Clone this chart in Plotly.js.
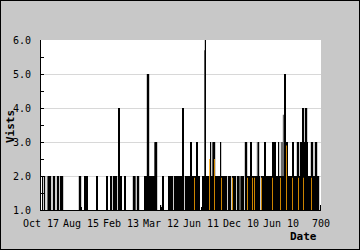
<!DOCTYPE html>
<html>
<head>
<meta charset="utf-8">
<script src="https://cdn.plot.ly/plotly-3.0.1.min.js"></script>
<style>
  html, body { margin: 0; padding: 0; background: #c8c8c8; }
  #chart { width: 358px; height: 248px; border: 1px solid #000; }
</style>
</head>
<body>
<div id="chart"></div>
<script>
// Day index (0..700) and visits per day
const days = [4,9,19,21,24,31,34,41,44,49,51,54,96,99,109,111,114,116,139,141,
  164,166,174,176,181,184,186,189,194,196,199,201,209,211,231,234,241,244,259,261,
  264,266,269,271,274,276,279,281,284,286,289,299,304,306,319,321,324,326,329,334,
  336,339,341,344,346,349,351,354,356,361,364,366,369,371,374,376,379,381,384,386,
  389,391,394,396,404,406,409,411,414,416,419,421,424,426,429,431,434,436,439,441,
  444,446,449,451,454,456,459,461,464,469,471,474,479,481,484,486,491,494,501,504,
  506,511,514,516,519,521,524,526,529,531,534,536,539,541,544,546,551,554,556,559,
  561,564,566,569,571,574,576,579,581,584,586,589,591,594,596,599,601,604,606,609,
  611,614,616,619,621,624,626,629,631,634,636,639,641,644,646,649,651,654,656,659,
  661,664,666,669,671,674,676,679,681,684,686,689,691,694,699];
const visits = [2,2,2,2,2,2,2,2,2,2,2,2,2,2,2,2,2,2,2,2,
  2,2,2,2,2,2,2,2,4,4,2,2,2,2,2,2,2,2,2,2,
  2,5,5,2,2,2,2,2,2,3,3,1.15,2,2,2,2,2,2,2,2,
  2,2,2,2,2,2,2,4,4,2,2,2,2,2,3,3,2,2,2,2,
  3,3,2,2,2,2,2,6,2,2,2,2,3,2,2,3,3,2,2,2,
  2,2,3,2,2,2,2,2,2,2,2,2,2,2,2,2,2,2,2,2,
  2,3,3,2,2,2,3,3,2,2,2,2,2,2,3,2,2,2,2,3,
  3,2,2,2,2,2,2,3,3,3,3,2,2,3,2,2,2,2,2,5,
  5,3,3,2,2,2,2,3,3,2,2,2,3,3,2,3,3,4,4,3,
  4,4,3,2,2,2,3,3,2,2,3,3,2,2,1.15];

// Days drawn as faint (partially covered) bars
const faintDays = [16,236,284,409,429,496,499,541,601,604,606];
const faintVisits = [2,2,3,5.7,3,2,2,3,3,3,3.8];

// Days whose bar shows the orange fill
const orangeDays = [384,421,434,451,479,516,529,534,551,579,599,614,629,644,656,676];
const orangeVisits = [1.95,2.5,2.5,1.95,1.95,1.95,1.95,1.95,1.95,1.95,1.95,2.9,1.95,1.95,1.95,1.95];

// Tick labels
const tickDays = [0,100,200,300,400,500,600,700];
const tickLabels = ["Oct 17","Aug 15","Feb 13","Mar 12","Jun 11","Dec 10","Jun 10","700"];

const font = "DejaVu Sans Mono, Liberation Mono, monospace";

const traces = [
  { type: "bar", x: faintDays, y: faintVisits, width: 3,
    marker: { color: "#6a6a6a", line: { width: 0 } } },
  { type: "bar", x: days, y: visits, width: 3,
    marker: { color: "#000000", line: { width: 0 } } },
  { type: "bar", x: orangeDays, y: orangeVisits, width: 2,
    marker: { color: "#ffa500", line: { width: 0 } } }
];

const layout = {
  width: 358, height: 248,
  margin: { l: 40, r: 38, t: 39, b: 39, pad: 0 },
  paper_bgcolor: "#c8c8c8",
  plot_bgcolor: "#ffffff",
  showlegend: false,
  barmode: "overlay",
  font: { family: font, size: 10, color: "#000" },
  xaxis: {
    range: [0, 700], tickmode: "array", tickvals: tickDays, ticktext: tickLabels,
    ticks: "inside", ticklen: 3, tickcolor: "#000", ticklabelstandoff: 4,
    showline: true, linecolor: "#000", linewidth: 1,
    showgrid: false, zeroline: false, fixedrange: true,
    tickfont: { family: font, size: 10, color: "#000" }
  },
  yaxis: {
    range: [1, 6], dtick: 1, tick0: 1, tickformat: ".1f",
    ticks: "inside", ticklen: 3, tickcolor: "#000", ticklabelstandoff: 7,
    minor: { dtick: 0.5, ticks: "inside", ticklen: 3, tickcolor: "#000", showgrid: false },
    showline: true, linecolor: "#000", linewidth: 1,
    showgrid: true, gridcolor: "#d8d8d8", zeroline: false, fixedrange: true,
    tickfont: { family: font, size: 10, color: "#000" }
  },
  annotations: [
    { text: "<b>Vists</b>", xref: "paper", yref: "paper", x: 0, y: 0.5,
      xanchor: "center", yanchor: "middle", xshift: -31, yshift: -2,
      textangle: -90, showarrow: false, font: { family: font, size: 11, color: "#000" } },
    { text: "<b>Date</b>", xref: "paper", yref: "paper", x: 1, y: 0,
      xanchor: "right", yanchor: "middle", xshift: -2, yshift: -26,
      showarrow: false, font: { family: font, size: 11, color: "#000" } }
  ]
};

Plotly.newPlot("chart", traces, layout, { staticPlot: true, displayModeBar: false });
</script>
</body>
</html>
